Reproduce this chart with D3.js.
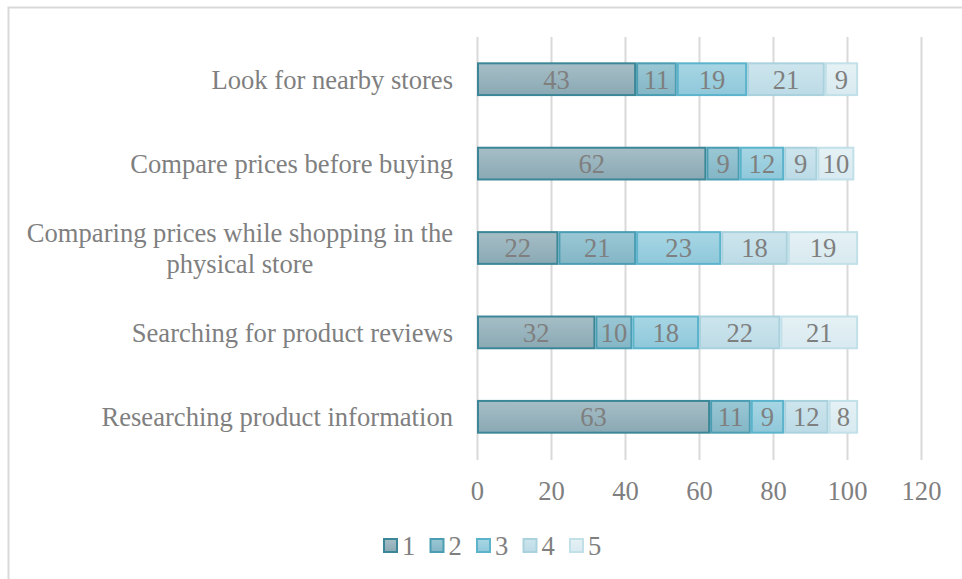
<!DOCTYPE html>
<html><head><meta charset="utf-8">
<script src="https://cdn.jsdelivr.net/npm/d3@7"></script>
<style>html,body{margin:0;padding:0;background:#fff;}svg{display:block;}</style>
</head><body>
<svg id="c" width="962" height="579"></svg>
<script>
const categories = ["Look for nearby stores","Compare prices before buying","Comparing prices while shopping in the physical store","Searching for product reviews","Researching product information"];
const seriesNames = ["1","2","3","4","5"];
const s1 = [43,62,22,32,63];
const s2 = [11,9,21,10,11];
const s3 = [19,12,23,18,9];
const s4 = [21,9,18,22,12];
const s5 = [9,10,19,21,8];
const xTicks = [0,20,40,60,80,100,120];
const seriesValues = [s1,s2,s3,s4,s5];
const fillTop = ["#a6bec6","#9ac7d4","#a7d6e4","#cde5ed","#e5f1f5"];
const fillBot = ["#8aa9b4","#84b6c6","#8fc8da","#bcdbe6","#d8eaf0"];
const strokes = ["#3b8797","#4a9db2","#5bb4cc","#a9d2de","#c2e0e8"];

const svg = d3.select("#c");
svg.append("rect").attr("x",8.5).attr("y",7.5).attr("width",970).attr("height",600)
  .attr("fill","#fff").attr("stroke","#d9d9d9").attr("stroke-width",2);

const defs = svg.append("defs");
seriesNames.forEach((s,i)=>{
  const g = defs.append("linearGradient").attr("id","g"+i).attr("x1",0).attr("y1",0).attr("x2",0).attr("y2",1);
  g.append("stop").attr("offset","0%").attr("stop-color",fillTop[i]);
  g.append("stop").attr("offset","100%").attr("stop-color",fillBot[i]);
});

const x = d3.scaleLinear().domain([0,120]).range([477,921]);
const y = d3.scaleBand().domain(categories).range([37,459]).paddingInner(0.6).paddingOuter(0.3);
const font = "'Liberation Serif','Times New Roman',serif";
const fs = 26.6;
const gray = "#7f7f7f";

// gridlines
svg.append("g").selectAll("line").data(xTicks).join("line")
  .attr("x1",d=>x(d)+0.5).attr("x2",d=>x(d)+0.5).attr("y1",37).attr("y2",460)
  .attr("stroke","#d9d9d9").attr("stroke-width",2);

// x axis tick labels
const xa = svg.append("g").attr("transform","translate(0,460)")
  .call(d3.axisBottom(x).tickValues(xTicks).tickSize(0).tickPadding(21));
xa.select(".domain").remove();
xa.selectAll("text").attr("font-family",font).attr("font-size",fs).attr("fill",gray);

// stacked data
const rows = categories.map((c,ci)=>{ const o={cat:c}; seriesNames.forEach((s,si)=>o[s]=seriesValues[si][ci]); return o; });
const stacked = d3.stack().keys(seriesNames)(rows);

const layers = svg.append("g").selectAll("g").data(stacked).join("g");
layers.each(function(layer,i){
  const g = d3.select(this);
  g.selectAll("rect").data(layer).join("rect")
    .attr("x",d=>x(d[0])+1).attr("y",d=>y(d.data.cat)+1)
    .attr("width",d=>x(d[1])-x(d[0])-2).attr("height",y.bandwidth()-2)
    .attr("fill","url(#g"+i+")").attr("stroke",strokes[i]).attr("stroke-width",2);
  g.selectAll("text").data(layer).join("text")
    .attr("x",d=>(x(d[0])+x(d[1]))/2).attr("y",d=>y(d.data.cat)+y.bandwidth()/2)
    .attr("dy","0.35em").attr("text-anchor","middle")
    .attr("font-family",font).attr("font-size",fs).attr("fill",gray)
    .text(d=>d[1]-d[0]);
});

// category labels
const lab = svg.append("g");
const wrapped = {"Comparing prices while shopping in the physical store":["Comparing prices while shopping in the","physical store"]};
categories.forEach(c=>{
  const lines = wrapped[c] || [c];
  const cy = y(c)+y.bandwidth()/2;
  const t = lab.append("text").attr("text-anchor","middle")
    .attr("font-family",font).attr("font-size",fs).attr("fill",gray);
  const lh = 31;
  lines.forEach((l,i)=>{
    t.append("tspan").attr("x",0).attr("y",cy+(i-(lines.length-1)/2)*lh).attr("dy","0.35em").text(l);
  });
  const bb = t.node().getBBox();
  t.attr("transform",`translate(${453-bb.width/2},0)`);
});

// legend
const lg = svg.append("g");
seriesNames.forEach((s,i)=>{
  const lx = 384 + i*46.5;
  lg.append("rect").attr("x",lx).attr("y",539).attr("width",13).attr("height",13)
    .attr("fill","url(#g"+i+")").attr("stroke",strokes[i]).attr("stroke-width",2);
  lg.append("text").attr("x",lx+18).attr("y",546).attr("dy","0.35em")
    .attr("font-family",font).attr("font-size",fs).attr("fill",gray).text(s);
});
</script>
</body></html>
